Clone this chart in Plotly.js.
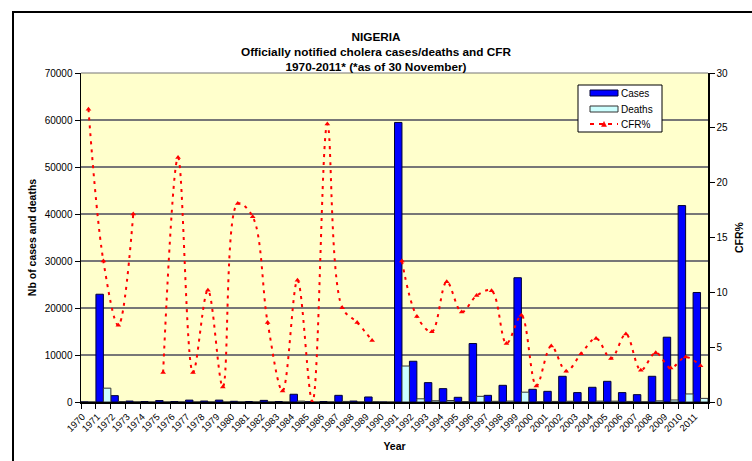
<!DOCTYPE html>
<html><head><meta charset="utf-8">
<script src="https://cdn.plot.ly/plotly-3.0.1.min.js"></script>
<style>
html,body{margin:0;padding:0;background:#fff;}
#wrap{position:relative;width:752px;height:461px;overflow:hidden;}
#chart{position:absolute;left:0;top:0;width:752px;height:461px;}
#frame{position:absolute;left:12px;top:11px;width:800px;height:500px;border:2px solid #000;pointer-events:none;}
</style></head>
<body><div id="wrap"><div id="chart"></div><div id="frame"></div></div>
<script>
const years = ["1970","1971","1972","1973","1974","1975","1976","1977","1978","1979","1980","1981","1982","1983","1984","1985","1986","1987","1988","1989","1990","1991","1992","1993","1994","1995","1996","1997","1998","1999","2000","2001","2002","2003","2004","2005","2006","2007","2008","2009","2010","2011"];
const cases = [15,22931,1350,200,100,300,100,400,200,400,150,100,350,100,1650,50,100,1420,200,1070,0,59478,8670,4120,2840,1000,12440,1420,3550,26440,2700,2270,5470,2000,3130,4400,2000,1560,5470,13790,41790,23300];
const deaths = [4,2945,95,34,0,8,22,11,20,6,27,17,25,1,183,0,25,122,15,60,0,7654,676,264,312,82,1207,143,189,2089,39,116,153,88,182,174,124,45,246,427,1713,769];
const cfr = [26.7,12.85,7.0,17.15,null,2.68,22.3,2.68,10.2,1.37,18.1,16.9,7.25,1.0,11.1,0,25.35,8.6,7.25,5.6,null,12.85,7.8,6.4,10.97,8.2,9.7,10.15,5.33,7.9,1.46,5.1,2.8,4.4,5.8,3.96,6.2,2.9,4.5,3.1,4.1,3.3];
const legendLabels = ["Cases","Deaths","CFR%"];

const FAM = "Liberation Sans, Arial, sans-serif";
const CASE_COL = "#0000FF", DEATH_COL = "#CCFFFF", CFR_COL = "#FF0000";
const traces = [
 {type:"bar", name:legendLabels[0], x:years, y:cases, marker:{color:CASE_COL, line:{color:"#000033", width:1}}},
 {type:"bar", name:legendLabels[1], x:years, y:deaths, marker:{color:DEATH_COL, line:{color:"#333333", width:1}}},
 {type:"scatter", mode:"lines+markers", name:legendLabels[2], x:years, y:cfr, yaxis:"y2", connectgaps:false,
  line:{color:CFR_COL, width:2, dash:"3px,5px", shape:"spline", smoothing:1},
  marker:{symbol:"triangle-up", size:5, color:CFR_COL}}
];

// plot area in px: x 81..708, y 73..402
const PL=81, PR=708, PT=73, PB=402;
const px = v => (v-PL)/(PR-PL);
const py = v => (PB-v)/(PB-PT);
const shapes = [
 {type:"line", xref:"paper", yref:"paper", x0:0, x1:1, y0:1, y1:1, line:{color:"#777", width:1.2}},
 {type:"rect", xref:"paper", yref:"paper", x0:px(578), x1:px(662), y0:py(85), y1:py(132), fillcolor:"#fff", line:{color:"#000", width:1}},
 {type:"rect", xref:"paper", yref:"paper", x0:px(590), x1:px(618), y0:py(90), y1:py(96), fillcolor:CASE_COL, line:{color:"#000033", width:1}},
 {type:"rect", xref:"paper", yref:"paper", x0:px(590), x1:px(618), y0:py(106), y1:py(112), fillcolor:DEATH_COL, line:{color:"#333", width:1}},
 {type:"line", xref:"paper", yref:"paper", x0:px(590), x1:px(618), y0:py(124), y1:py(124), line:{color:CFR_COL, width:2, dash:"4px,5px"}},
 {type:"path", xref:"paper", yref:"paper", path:`M ${px(601.5)} ${py(126.5)} L ${px(606.5)} ${py(126.5)} L ${px(604)} ${py(121.5)} Z`, fillcolor:CFR_COL, line:{color:CFR_COL, width:0.5}}
];
const legY = [93, 109, 124];
const annotations = legendLabels.map((t,i)=>({xref:"paper", yref:"paper", x:px(619), y:py(legY[i]), xanchor:"left", yanchor:"middle",
  text:t, showarrow:false, font:{family:FAM, size:10, color:"#000"}}));

const layout = {
 width:752, height:461,
 margin:{l:PL, r:752-PR, t:PT, b:461-PB, pad:0},
 paper_bgcolor:"#fff", plot_bgcolor:"#FFFFCC",
 barmode:"group", bargap:0, bargroupgap:0,
 font:{family:FAM, size:10, color:"#000"},
 showlegend:false,
 title:{text:"<b>NIGERIA</b><br><b>Officially notified cholera cases/deaths and CFR</b><br><b>1970-2011* (*as of 30 November)</b>",
   font:{family:FAM, size:11.8, color:"#000"}, x:0.5, xanchor:"center", y:0.912, yanchor:"top"},
 xaxis:{type:"category", range:[-0.5, 41.5], tickson:"boundaries", ticks:"outside", ticklen:5, tickcolor:"#000",
   showline:true, linecolor:"#000", linewidth:1.5, tickangle:-45, showgrid:false,
   ticklabelshift:-6, ticklabelstandoff:4,
   tickfont:{family:FAM, size:9.5, color:"#000"},
   title:{text:"<b>Year</b>", font:{family:FAM, size:10.5, color:"#000"}, standoff:10}},
 yaxis:{range:[0,70000], dtick:10000, ticks:"outside", ticklen:5, tickcolor:"#000",
   showline:true, linecolor:"#000", linewidth:1.5, showgrid:true, gridcolor:"#777", gridwidth:1.2,
   zeroline:false, tickfont:{family:FAM, size:10, color:"#000"}, tickformat:"d",
   title:{text:"<b>Nb of cases and deaths</b>", font:{family:FAM, size:10.5, color:"#000"}, standoff:6}},
 yaxis2:{overlaying:"y", side:"right", range:[0,30], dtick:5, ticks:"outside", ticklen:5, tickcolor:"#000",
   showline:true, linecolor:"#000", linewidth:1.5, showgrid:false, zeroline:false,
   tickfont:{family:FAM, size:10, color:"#000"},
   title:{text:"<b>CFR%</b>", font:{family:FAM, size:10.5, color:"#000"}, standoff:8}},
 shapes:shapes, annotations:annotations
};
Plotly.newPlot("chart", traces, layout, {displayModeBar:false, staticPlot:true});
</script></body></html>
